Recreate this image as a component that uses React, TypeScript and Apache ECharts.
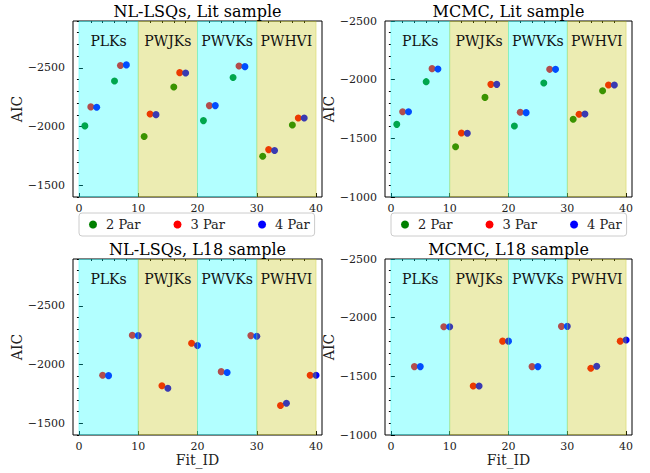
import React, { useEffect, useRef } from "react";
import * as echarts from "echarts";

// ---- data ----
const titles = ["NL-LSQs, Lit sample", "MCMC, Lit sample", "NL-LSQs, L18 sample", "MCMC, L18 sample"];
const seriesNames = ["2 Par", "3 Par", "4 Par"];
const bandNames = ["PLKs", "PWJKs", "PWVKs", "PWHVI"];
const bandEdges = [0, 10, 20, 30, 40];

// Fit_ID positions
const fitTop2 = [1, 6, 11, 16, 21, 26, 31, 36];
const fitTop3 = [2, 7, 12, 17, 22, 27, 32, 37];
const fitTop4 = [3, 8, 13, 18, 23, 28, 33, 38];
const fitBot3 = [4, 9, 14, 19, 24, 29, 34, 39];
const fitBot4 = [5, 10, 15, 20, 25, 30, 35, 40];

// AIC values
const lsqLit2 = [-2006, -2389, -1915, -2338, -2051, -2418, -1748, -2014];
const lsqLit3 = [-2168, -2520, -2108, -2460, -2179, -2517, -1804, -2074];
const lsqLit4 = [-2165, -2526, -2102, -2457, -2179, -2511, -1796, -2074];

const mcmcLit2 = [-1619, -1983, -1429, -1849, -1605, -1972, -1662, -1906];
const mcmcLit3 = [-1727, -2094, -1545, -1960, -1722, -2088, -1705, -1955];
const mcmcLit4 = [-1727, -2091, -1543, -1960, -1719, -2088, -1707, -1955];

const lsqL183 = [-1909, -2250, -1819, -2182, -1940, -2247, -1651, -1909];
const lsqL184 = [-1906, -2247, -1799, -2162, -1932, -2241, -1671, -1909];

const mcmcL183 = [-1583, -1923, -1417, -1800, -1583, -1926, -1569, -1800];
const mcmcL184 = [-1583, -1923, -1417, -1800, -1583, -1926, -1586, -1809];

// ticks
const xMajorTicks = [0, 10, 20, 30, 40];
const xMinorTicks = [2, 4, 6, 8, 12, 14, 16, 18, 22, 24, 26, 28, 32, 34, 36, 38];
const yMajorLsq = [-2500, -2000, -1500];
const yMinorLsq = [-2900, -2800, -2700, -2600, -2400, -2300, -2200, -2100, -1900, -1800, -1700, -1600, -1400];
const yMajorMcmc = [-2500, -2000, -1500, -1000];
const yMinorMcmc = [-2400, -2300, -2200, -2100, -1900, -1800, -1700, -1600, -1400, -1300, -1200, -1100];

const FONT = "DejaVu Serif";
const seriesColors = ["#008000", "#ff0000", "#0000ff"];
const bandFill = ["rgba(0,255,255,0.3)", "rgba(191,191,0,0.3)"];

type Panel = {
  title: string;
  grid: { left: number; top: number; width: number; height: number };
  yMin: number;
  yMax: number;
  yMajor: number[];
  yMinor: number[];
  series: { name: string; xs: number[]; ys: number[] }[];
  bottom: boolean;
};

const panels: Panel[] = [
  {
    title: titles[0],
    grid: { left: 73, top: 21, width: 249, height: 176 },
    yMin: -2900, yMax: -1400, yMajor: yMajorLsq, yMinor: yMinorLsq,
    series: [
      { name: seriesNames[0], xs: fitTop2, ys: lsqLit2 },
      { name: seriesNames[1], xs: fitTop3, ys: lsqLit3 },
      { name: seriesNames[2], xs: fitTop4, ys: lsqLit4 },
    ],
    bottom: false,
  },
  {
    title: titles[1],
    grid: { left: 385, top: 21, width: 247, height: 176 },
    yMin: -2500, yMax: -1000, yMajor: yMajorMcmc, yMinor: yMinorMcmc,
    series: [
      { name: seriesNames[0], xs: fitTop2, ys: mcmcLit2 },
      { name: seriesNames[1], xs: fitTop3, ys: mcmcLit3 },
      { name: seriesNames[2], xs: fitTop4, ys: mcmcLit4 },
    ],
    bottom: false,
  },
  {
    title: titles[2],
    grid: { left: 73, top: 259, width: 249, height: 176 },
    yMin: -2900, yMax: -1400, yMajor: yMajorLsq, yMinor: yMinorLsq,
    series: [
      { name: seriesNames[1], xs: fitBot3, ys: lsqL183 },
      { name: seriesNames[2], xs: fitBot4, ys: lsqL184 },
    ],
    bottom: true,
  },
  {
    title: titles[3],
    grid: { left: 385, top: 259, width: 247, height: 176 },
    yMin: -2500, yMax: -1000, yMajor: yMajorMcmc, yMinor: yMinorMcmc,
    series: [
      { name: seriesNames[1], xs: fitBot3, ys: mcmcL183 },
      { name: seriesNames[2], xs: fitBot4, ys: mcmcL184 },
    ],
    bottom: true,
  },
];

const fmtNum = (v: number) => String(v).replace("-", "\u2212");

function buildOption() {
  const grids: any[] = [];
  const xAxes: any[] = [];
  const yAxes: any[] = [];
  const series: any[] = [];
  const titleList: any[] = [];

  panels.forEach((p, i) => {
    grids.push({
      ...p.grid,
      show: true,
      borderColor: "#000",
      borderWidth: 1,
      backgroundColor: "transparent",
      containLabel: false,
    });
    titleList.push({
      text: p.title,
      left: p.grid.left + p.grid.width / 2,
      top: p.grid.top - 18,
      textAlign: "center",
      padding: 0,
      textStyle: { fontFamily: FONT, fontSize: 16, fontWeight: "normal", color: "#000" },
    });
    xAxes.push({
      gridIndex: i,
      type: "value",
      min: -1,
      max: 41,
      axisLine: { show: false },
      splitLine: { show: false },
      axisTick: { inside: true, length: 4, customValues: xMajorTicks, lineStyle: { color: "#000" } },
      axisLabel: { customValues: xMajorTicks, color: "#222", fontFamily: FONT, fontSize: 11, margin: 6 },
      name: p.bottom ? "Fit_ID" : "",
      nameLocation: "middle",
      nameGap: 18,
      nameTextStyle: { fontFamily: FONT, fontSize: 14, color: "#222" },
    });
    xAxes.push({
      gridIndex: i,
      type: "value",
      min: -1,
      max: 41,
      axisLine: { show: false },
      splitLine: { show: false },
      axisTick: { inside: true, length: 2, customValues: xMinorTicks, lineStyle: { color: "#000" } },
      axisLabel: { show: false },
    });
    yAxes.push({
      gridIndex: i,
      type: "value",
      inverse: true,
      min: p.yMin,
      max: p.yMax,
      axisLine: { show: false },
      splitLine: { show: false },
      axisTick: { inside: true, length: 4, customValues: p.yMajor, lineStyle: { color: "#000" } },
      axisLabel: { customValues: p.yMajor, formatter: fmtNum, color: "#222", fontFamily: FONT, fontSize: 11, margin: 8 },
      name: "AIC",
      nameLocation: "middle",
      nameRotate: 90,
      nameGap: 43,
      nameTextStyle: { fontFamily: FONT, fontSize: 14, color: "#222" },
    });
    yAxes.push({
      gridIndex: i,
      type: "value",
      inverse: true,
      min: p.yMin,
      max: p.yMax,
      axisLine: { show: false },
      splitLine: { show: false },
      axisTick: { inside: true, length: 2, customValues: p.yMinor, lineStyle: { color: "#000" } },
      axisLabel: { show: false },
    });

    p.series.forEach((s) => {
      series.push({
        type: "scatter",
        name: s.name,
        xAxisIndex: 2 * i,
        yAxisIndex: 2 * i,
        symbol: "circle",
        symbolSize: 7,
        z: 2,
        itemStyle: { color: seriesColors[seriesNames.indexOf(s.name)], opacity: 1 },
        data: s.xs.map((x, k) => [x, s.ys[k]]),
      });
    });

    const mid = (p.yMin + p.yMax) / 2;
    series.push({
      type: "custom",
      xAxisIndex: 2 * i,
      yAxisIndex: 2 * i,
      z: 5,
      silent: true,
      encode: { x: [0, 1], y: 2 },
      data: bandNames.map((_, k) => [bandEdges[k], bandEdges[k + 1], mid]),
      renderItem: (params: any, api: any) => {
        const cs = params.coordSys;
        const x0 = api.coord([api.value(0), api.value(2)])[0];
        const x1 = api.coord([api.value(1), api.value(2)])[0];
        const k = params.dataIndex;
        return {
          type: "group",
          children: [
            {
              type: "rect",
              shape: { x: x0, y: cs.y + 0.5, width: x1 - x0, height: cs.height - 1 },
              style: { fill: bandFill[k % 2], stroke: bandFill[k % 2], lineWidth: 1 },
            },
            {
              type: "text",
              x: (x0 + x1) / 2,
              y: cs.y + 20,
              style: {
                text: bandNames[k],
                fill: "#111",
                font: `14px '${FONT}'`,
                align: "center",
                verticalAlign: "middle",
              },
            },
          ],
        };
      },
    });
  });

  const legendBase = {
    data: seriesNames,
    icon: "circle",
    itemWidth: 16,
    itemHeight: 8,
    itemGap: 33,
    top: 213,
    orient: "horizontal",
    borderColor: "#ccc",
    borderWidth: 1,
    borderRadius: 3,
    padding: [5, 5, 5, 10],
    textStyle: { fontFamily: FONT, fontSize: 13, color: "#222" },
    selectedMode: false,
  };

  return {
    animation: false,
    backgroundColor: "#fff",
    title: titleList,
    legend: [
      { ...legendBase, left: 79 },
      { ...legendBase, left: 391 },
    ],
    grid: grids,
    xAxis: xAxes,
    yAxis: yAxes,
    series,
  };
}

export default function App() {
  const ref = useRef<HTMLDivElement>(null);
  useEffect(() => {
    document.body.style.margin = "0";
    if (!ref.current) return;
    const chart = echarts.init(ref.current, undefined, { renderer: "svg" });
    chart.setOption(buildOption() as any);
    return () => chart.dispose();
  }, []);
  return <div ref={ref} style={{ width: 650, height: 473, position: "absolute", left: 0, top: 0 }} />;
}
